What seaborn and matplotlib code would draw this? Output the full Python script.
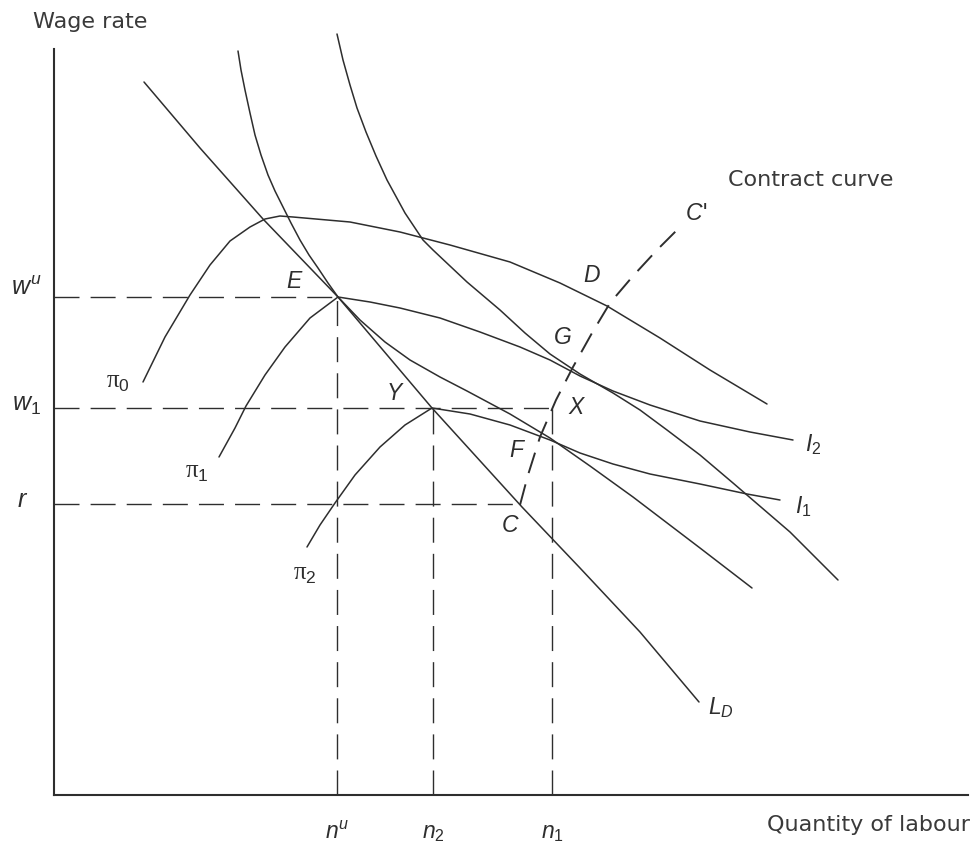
import numpy as np
import pandas as pd
import matplotlib
matplotlib.use("Agg")
import matplotlib.pyplot as plt
import seaborn as sns

# labour demand curve L_D
ld_x = [90, 146, 209, 284, 378, 468, 526, 586, 645]
ld_y = [713, 647, 576, 498, 387, 288, 227, 163, 93]

# union indifference curve through E
iu_x = [184, 187, 191, 196, 201, 207, 214, 221, 229, 237, 246, 255, 264, 274, 284,
        306, 331, 356, 386, 413, 456, 496, 536, 579, 646, 698]
iu_y = [744, 725, 705, 682, 660, 640, 620, 604, 588, 572, 555, 540, 527, 512, 498,
        475, 453, 435, 418, 404, 381, 357, 329, 298, 247, 207]

# outer indifference curve
io_x = [283, 289, 296, 303, 312, 322, 333, 351, 369, 379, 413, 446, 471, 496, 526, 559, 586, 613, 646, 679, 736, 784]
io_y = [761, 735, 710, 687, 663, 639, 615, 582, 555, 545, 513, 485, 462, 441, 421, 402, 385, 365, 340, 312, 263, 215]

# isoprofit curves
p0_x = [89, 111, 136, 156, 176, 196, 211, 226, 239, 296, 346, 396, 456, 506, 553, 606, 656, 713]
p0_y = [413, 458, 500, 530, 554, 568, 576, 579, 578, 573, 563, 550, 533, 512, 489, 457, 425, 391]

p1_x = [165, 181, 192, 211, 231, 256, 284, 316, 346, 386, 426, 466, 496, 526, 559, 596, 646, 696, 739]
p1_y = [338, 367, 389, 420, 448, 477, 498, 493, 487, 477, 463, 448, 435, 419, 404, 390, 374, 363, 355]

p2_x = [253, 266, 281, 301, 326, 351, 378, 416, 456, 496, 526, 559, 596, 646, 693, 726]
p2_y = [248, 270, 292, 320, 348, 370, 387, 381, 370, 355, 342, 331, 321, 311, 301, 295]

# contract curve C -> C'
cc_x = [466, 474, 486, 502, 519, 538, 556, 579, 603, 628]
cc_y = [290, 320, 358, 395, 428, 462, 492, 519, 545, 570]

# wage levels and employment levels
w_u, w_1, r_w = 498, 387, 291
n_u, n_2, n_1 = 283, 379, 498
x_C = 466

sns.set_theme(style="white")
plt.rcParams["font.family"] = ["DejaVu Sans"]
plt.rcParams["mathtext.fontset"] = "custom"
plt.rcParams["mathtext.rm"] = "Liberation Sans"
plt.rcParams["mathtext.it"] = "Liberation Sans:italic"
plt.rcParams["mathtext.sf"] = "Liberation Serif"

ink = "#2e2e2e"
fig = plt.figure(figsize=(9.73, 8.47), dpi=100)
ax = fig.add_axes([54 / 973, 52 / 847, 914 / 973, 746 / 847])
ax.set_xlim(0, 914)
ax.set_ylim(0, 746)

curves = [(ld_x, ld_y), (iu_x, iu_y), (io_x, io_y), (p0_x, p0_y), (p1_x, p1_y), (p2_x, p2_y)]
for cx, cy in curves:
    sns.lineplot(x=cx, y=cy, sort=False, estimator=None, color=ink, lw=1.1, ax=ax, clip_on=False)

sns.lineplot(x=cc_x, y=cc_y, sort=False, estimator=None, color=ink, lw=1.4,
             linestyle=(0, (11, 6)), ax=ax, clip_on=False)

# dashed guide lines
dash = (0, (18, 8))
ax.plot([0, n_u], [w_u, w_u], color=ink, lw=1.0, ls=dash)
ax.plot([0, n_1], [w_1, w_1], color=ink, lw=1.0, ls=dash)
ax.plot([0, x_C], [r_w, r_w], color=ink, lw=1.0, ls=dash)
ax.plot([n_u, n_u], [0, w_u], color=ink, lw=1.0, ls=dash)
ax.plot([n_2, n_2], [0, w_1], color=ink, lw=1.0, ls=dash)
ax.plot([n_1, n_1], [0, w_1], color=ink, lw=1.0, ls=dash)

# axes look
for side in ["top", "right"]:
    ax.spines[side].set_visible(False)
for side in ["left", "bottom"]:
    ax.spines[side].set_color(ink)
    ax.spines[side].set_linewidth(1.5)
ax.set_xticks([])
ax.set_yticks([])

ttl = dict(color="#3a3a3a", fontsize=16, va="center")
ax.text(-21, 773, "Wage rate", ha="left", **ttl)
ax.text(916, -30, "Quantity of labour", ha="right", **ttl)
ax.text(674, 615, "Contract curve", ha="left", **ttl)

lab = dict(color=ink, fontsize=16.5, ha="center", va="center")
ax.text(241, 513, "$E$", **lab)
ax.text(538, 520, "$D$", **lab)
ax.text(508, 458, "$G$", **lab)
ax.text(523, 387, "$X$", **lab)
ax.text(464, 345, "$F$", **lab)
ax.text(456, 270, "$C$", **lab)
ax.text(341, 402, "$Y$", **lab)
ax.text(642, 582, "$C$'", **lab)
ax.text(759, 350, "$I_2$", **lab)
ax.text(749, 288, "$I_1$", **lab)
ax.text(667, 87, "$L_D$", **lab)

pi = dict(color=ink, fontsize=18, ha="center", va="center")
ax.text(64, 413, r"$\mathsf{\pi}_0$", **pi)
ax.text(143, 323, r"$\mathsf{\pi}_1$", **pi)
ax.text(251, 221, r"$\mathsf{\pi}_2$", **pi)

ax.text(-28, 507, "$w^u$", color=ink, fontsize=18, ha="center", va="center")
ax.text(-28, 390, "$w_1$", color=ink, fontsize=18, ha="center", va="center")
ax.text(-31, 295, "$r$", color=ink, fontsize=18, ha="center", va="center")
ax.text(n_u, -37, "$n^u$", **lab)
ax.text(n_2, -37, "$n_2$", **lab)
ax.text(n_1, -37, "$n_1$", **lab)

fig.savefig("out.png", dpi=100)
